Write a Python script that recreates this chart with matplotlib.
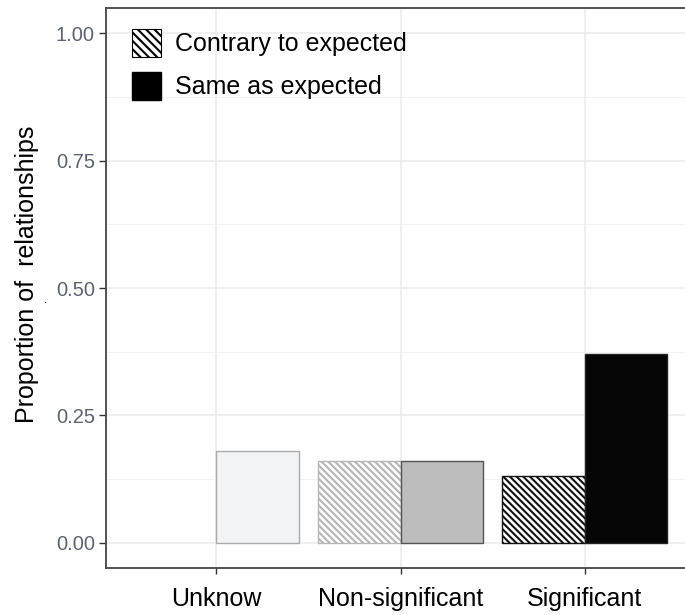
import numpy as np
import matplotlib.pyplot as plt
from matplotlib.patches import Patch

plt.rcParams['font.family'] = ['Liberation Sans', 'DejaVu Sans']
plt.rcParams['hatch.linewidth'] = 1.5

# data
categories = ['Unknow', 'Non-significant', 'Significant']
contrary = [0.0, 0.16, 0.13]
same = [0.18, 0.16, 0.37]

# per-bar styling (fill, edge)
contrary_fill = ['white', 'white', 'white']
contrary_edge = ['#bbbbbb', '#b5b5b5', '#111111']
same_fill = ['#f2f3f4', '#bdbdbd', '#050505']
same_edge = ['#aaaaaa', '#555555', '#222222']

fig = plt.figure(figsize=(6.85, 6.15), dpi=100)
W, H = 685, 615
ax = fig.add_axes([106 / W, 1 - 568 / H, (695 - 106) / W, 560 / H])

x = np.arange(1, len(categories) + 1)
bw = 0.45
for i in range(len(categories)):
    if contrary[i] > 0:
        ax.bar(x[i] - bw / 2, contrary[i], bw, color=contrary_fill[i],
               edgecolor=contrary_edge[i], hatch='\\' * 5, linewidth=1.0, zorder=3)
    ax.bar(x[i] + bw / 2, same[i], bw, color=same_fill[i],
           edgecolor=same_edge[i], linewidth=1.0, zorder=3)

ax.set_xlim(0.4, 3.6)
ax.set_ylim(-0.05, 1.05)
ax.set_xticks(x)
ax.set_xticklabels(categories, fontsize=18, color='black')
ax.set_yticks([0, 0.25, 0.5, 0.75, 1.0])
ax.set_yticklabels(['0.00', '0.25', '0.50', '0.75', '1.00'], fontsize=14.5, color='#5d6272')
ax.set_yticks([0.125, 0.375, 0.625, 0.875], minor=True)
ax.tick_params(axis='y', length=5, width=1.0, color='#333333', pad=3)
ax.tick_params(axis='y', which='minor', length=0)
ax.tick_params(axis='x', length=4, width=1.0, color='#333333', pad=10)

ax.grid(True, which='major', color='#ebebeb', linewidth=1.1, zorder=0)
ax.grid(True, which='minor', axis='y', color='#f2f2f2', linewidth=0.7, zorder=0)
ax.set_axisbelow(True)
for s in ax.spines.values():
    s.set_color('#444444')
    s.set_linewidth(1.3)

fig.text(27 / W, 1 - 274 / H, 'Proportion of  relationships', rotation=90,
         fontsize=18, ha='center', va='center')
fig.text(46 / W, 1 - 300 / H, '.', fontsize=9, ha='center', va='center')

handles = [Patch(facecolor='white', edgecolor='black', hatch='\\' * 4, linewidth=0.8),
           Patch(facecolor='black', edgecolor='black')]
ax.legend(handles, ['Contrary to expected', 'Same as expected'], loc='upper left',
          bbox_to_anchor=((132 - 106) / 589, (568 - 29) / 560), bbox_transform=ax.transAxes,
          frameon=False, fontsize=18, handlelength=1.16, handleheight=1.35,
          handletextpad=0.55, labelspacing=0.6, borderpad=0, borderaxespad=0)

fig.savefig('out.png', dpi=100)
